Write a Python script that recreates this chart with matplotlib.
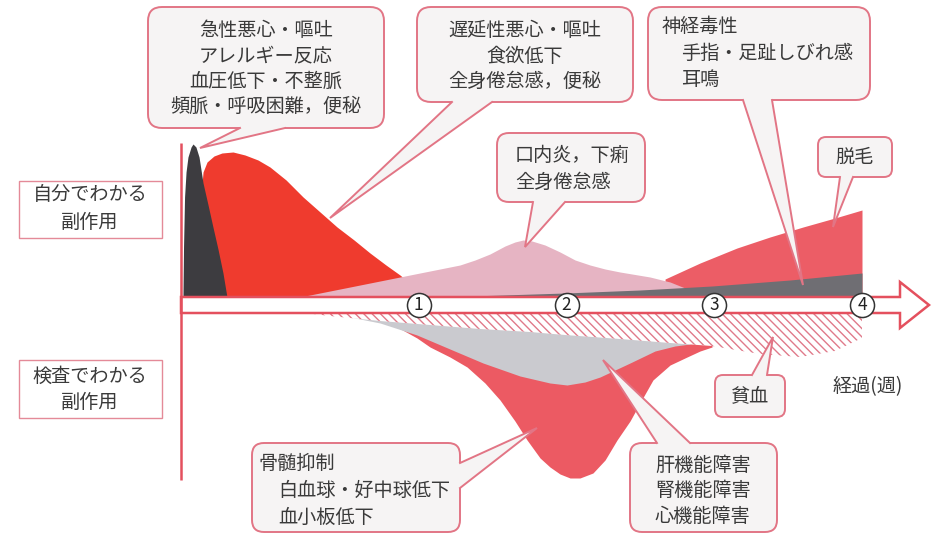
import numpy as np
import matplotlib
matplotlib.use('Agg')
import matplotlib.pyplot as plt
from matplotlib.patches import FancyBboxPatch, Polygon, Rectangle

plt.rcParams['font.family'] = ['Noto Sans CJK JP', 'DejaVu Sans']
plt.rcParams['hatch.linewidth'] = 1.0

# ---------------- data (x: weeks, heights: severity units above / below the time arrow)
weeks = [1, 2, 3, 4]
week_labels = ['1', '2', '3', '4']

# acute reactions (black spike)
acute_x = [-0.596, -0.592, -0.585, -0.575, -0.562, -0.541, -0.528, -0.508, -0.487,
           -0.460, -0.426, -0.393, -0.359, -0.325, -0.298]
acute_h = [0, 50, 100, 125, 140, 150, 153, 150, 140, 114, 92, 70, 48, 24, 0]

# early nausea etc. (red hump)
early_x = [-0.494, -0.480, -0.460, -0.433, -0.386, -0.332, -0.257, -0.176, -0.088,
           -0.007, 0.102, 0.217, 0.332, 0.447, 0.562, 0.670, 0.778, 0.873, 0.954, 1.042]
early_h = [0, 90, 125, 135, 141, 144, 145, 142, 137, 130, 117, 100, 85, 70, 57, 44,
           32, 22, 12, 0]

# stomatitis / diarrhoea (pink)
mucosa_x = [0.196, 0.399, 0.535, 0.704, 0.873, 1.008, 1.144, 1.279, 1.381, 1.482,
            1.584, 1.651, 1.706, 1.766, 1.854, 1.956, 2.058, 2.159, 2.261, 2.362,
            2.565, 2.701, 2.802, 2.904]
mucosa_h = [0, 6, 10, 15, 20, 24, 28, 32, 37, 43, 51, 55, 57, 56, 52, 45, 37, 32,
            28, 25, 20, 15, 9, 0]

# neurotoxicity (dark grey wedge)
neuro_x = [1.144, 1.990, 2.497, 2.985, 3.513, 4.000]
neuro_h = [0, 4, 7, 11, 17, 24]

# alopecia
hair_x = [2.667, 2.904, 3.154, 3.377, 3.601, 3.817, 4.000]
hair_h = [18, 34, 49, 60, 70, 79, 87]

# anaemia (hatched, depth below arrow)
anemia_x = [0.230, 0.399, 0.738, 1.076, 1.415, 1.753, 1.990, 2.362, 2.701, 2.985,
            3.310, 3.580, 3.817, 4.000]
anemia_d = [0, 3, 8, 12, 16, 19, 22, 26, 30, 33, 41, 44, 38, 25]

# liver / kidney / heart dysfunction (silver)
organ_x = [0.332, 0.535, 0.738, 0.988, 1.211, 1.435, 1.685, 1.888, 2.003, 2.125,
           2.227, 2.430, 2.599, 2.734, 2.836]
organ_d = [0, 4, 10, 22, 36, 50, 63, 70, 72, 69, 64, 50, 38, 33, 31]

# bone-marrow suppression (red, below)
marrow_x = [0.805, 0.988, 1.076, 1.211, 1.327, 1.448, 1.550, 1.651, 1.733, 1.821,
            1.888, 1.956, 2.024, 2.091, 2.179, 2.261, 2.342, 2.430, 2.497, 2.585,
            2.701, 2.816, 2.904, 2.985]
marrow_d = [10, 25, 34, 44, 54, 70, 87, 108, 127, 145, 154, 161, 165, 165, 160, 147,
            127, 108, 90, 67, 52, 44, 38, 34]

# ---------------- style
LINE_RED = '#e4505e'
BOX_EDGE = '#e27585'
BOX_FILL = '#f6f4f4'
TXT = '#3a3a3a'
FS = 13.8

fig = plt.figure(figsize=(9.33, 5.35), dpi=100)
ax = fig.add_axes([0, 0, 1, 1])
ax.set_xlim(-271 / 147.75, (933 - 271) / 147.75)
ax.set_ylim(305 - 535, 305)
ax.axis('off')

UP, DN = 8, -8   # upper / lower edges of the time arrow band

# upper (subjective) side effects
ax.fill_between(early_x, UP, UP + np.array(early_h), color='#ef3b2e', lw=0, zorder=2)
ax.fill_between(acute_x, UP, UP + np.array(acute_h), color='#3d3c40', lw=0, zorder=3)
ax.fill_between(hair_x, UP, UP + np.array(hair_h), color='#ec5d66', lw=0, zorder=2)
ax.fill_between(mucosa_x, UP, UP + np.array(mucosa_h), color='#e6b4c3', lw=0, zorder=3)
ax.fill_between(neuro_x, UP, UP + np.array(neuro_h), color='#6f6e73', lw=0, zorder=4)

# lower (laboratory) side effects
ax.fill_between(marrow_x, DN, DN - np.array(marrow_d), color='#ec5a63', lw=0, zorder=2)
ax.fill_between(organ_x, DN, DN - np.array(organ_d), color='#cacacf', lw=0, zorder=3)
ax.fill_between(anemia_x, DN, DN - np.array(anemia_d), facecolor='white',
                edgecolor='#e07a8a', hatch='\\\\\\\\', lw=0, zorder=4)

# time arrow and vertical axis
x0 = (181 - 271) / 147.75
xb = (900 - 271) / 147.75
xt = (929 - 271) / 147.75
ax.add_patch(Polygon([(x0, UP), (xb, UP), (xb, 23), (xt, 0), (xb, -23), (xb, DN), (x0, DN)],
                     closed=True, fc='white', ec=LINE_RED, lw=1.8, zorder=5,
                     joinstyle='miter'))
ax.plot([x0, x0], [162, -175], color=LINE_RED, lw=1.8, zorder=6, solid_capstyle='butt')

ax.scatter(weeks, [0] * len(weeks), s=300, facecolor='white', edgecolor='#333333',
           lw=1.1, zorder=7)
for w, lab in zip(weeks, week_labels):
    ax.text(w, -0.5, lab, ha='center', va='center', fontsize=12.5, color='#222222',
            zorder=8)

# ---------------- callouts (overlay in pixel coordinates)
ov = fig.add_axes([0, 0, 1, 1])
ov.set_xlim(0, 933)
ov.set_ylim(535, 0)
ov.axis('off')
ov.patch.set_alpha(0)


def callout(box, r, base, tip, lines, side):
    x0_, y0_, x1_, y1_ = box
    ov.add_patch(FancyBboxPatch((x0_, y0_), x1_ - x0_, y1_ - y0_,
                                boxstyle=f'round,pad=0,rounding_size={r}',
                                fc=BOX_FILL, ec=BOX_EDGE, lw=1.4, zorder=10))
    (bx1, by1), (bx2, by2) = base
    d = 3
    if side == 'bottom':
        i1, i2 = (bx1, by1 - d), (bx2, by2 - d)
    elif side == 'top':
        i1, i2 = (bx1, by1 + d), (bx2, by2 + d)
    else:  # right
        i1, i2 = (bx1 - d, by1), (bx2 - d, by2)
    ov.add_patch(Polygon([i1, (bx1, by1), tip, (bx2, by2), i2], closed=True,
                         fc=BOX_FILL, ec='none', zorder=11))
    ov.plot([bx1, tip[0], bx2], [by1, tip[1], by2], color=BOX_EDGE, lw=1.4,
            zorder=12, solid_joinstyle='miter')
    for (tx, ty, s, ha) in lines:
        ov.text(tx, ty, s, ha=ha, va='center', fontsize=FS, color=TXT, zorder=13)


callout((148, 7, 384, 128), 14, [(240, 128), (285, 128)], (200, 148),
        [(266, 31, '急性悪心・嘔吐', 'center'),
         (266, 56, 'アレルギー反応', 'center'),
         (266, 81, '血圧低下・不整脈', 'center'),
         (266, 106, '頻脈・呼吸困難，便秘', 'center')], 'bottom')
callout((417, 7, 633, 102), 14, [(452, 102), (492, 102)], (330, 218),
        [(525, 31, '遅延性悪心・嘔吐', 'center'),
         (525, 56, '食欲低下', 'center'),
         (525, 81, '全身倦怠感，便秘', 'center')], 'bottom')
callout((648, 7, 870, 100), 14, [(743, 100), (772, 100)], (803, 285),
        [(662, 26, '神経毒性', 'left'),
         (681, 53, '手指・足趾しびれ感', 'left'),
         (681, 79, '耳鳴', 'left')], 'bottom')
callout((497, 133, 645, 202), 12, [(533, 202), (565, 202)], (525, 247),
        [(515, 155, '口内炎，下痢', 'left'),
         (515, 182, '全身倦怠感', 'left')], 'bottom')
callout((818, 137, 892, 177), 8, [(840, 177), (853, 177)], (833, 227),
        [(855, 157, '脱毛', 'center')], 'bottom')
callout((252, 443, 460, 532), 12, [(460, 463), (460, 488)], (537, 428),
        [(258, 463, '骨髄抑制', 'left'),
         (278, 490, '白血球・好中球低下', 'left'),
         (278, 517, '血小板低下', 'left')], 'right')
callout((630, 443, 777, 532), 12, [(657, 443), (690, 443)], (603, 360),
        [(655, 465, '肝機能障害', 'left'),
         (655, 490, '腎機能障害', 'left'),
         (655, 517, '心機能障害', 'left')], 'top')
callout((715, 375, 785, 417), 8, [(752, 375), (767, 375)], (773, 337),
        [(750, 396, '貧血', 'center')], 'top')

# side labels
for (y0_, y1_, l1, l2, t1, t2) in [(181, 238, '自分でわかる', '副作用', 194, 222),
                                    (360, 418, '検査でわかる', '副作用', 376, 402)]:
    ov.add_patch(Rectangle((19, y0_), 143, y1_ - y0_, fc='white', ec='#e48a98',
                           lw=1.0, zorder=10))
    ov.text(90, t1, l1, ha='center', va='center', fontsize=FS, color=TXT, zorder=13)
    ov.text(90, t2, l2, ha='center', va='center', fontsize=FS, color=TXT, zorder=13)

ov.text(833, 387, '経過(週)', ha='left', va='center', fontsize=FS, color=TXT, zorder=13)

fig.savefig('out.png', dpi=100, facecolor='white')
